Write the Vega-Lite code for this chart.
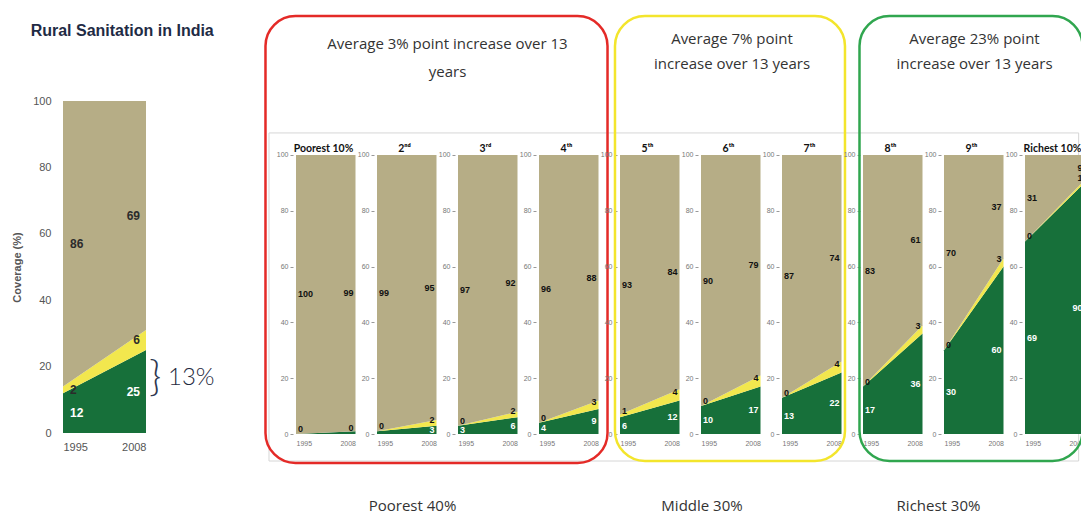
{
  "$schema": "https://vega.github.io/schema/vega-lite/v6.json",
  "background": "white",
  "padding": {"left": 11, "top": 14, "right": 0, "bottom": 0},
  "config": {"view": {"stroke": null}, "font": "Liberation Sans"},
  "datasets": {
    "india": [
      {"year": 1995, "type": "Improved", "value": 12},
      {"year": 1995, "type": "Shared", "value": 2},
      {"year": 1995, "type": "Unimproved", "value": 86},
      {"year": 2008, "type": "Improved", "value": 25},
      {"year": 2008, "type": "Shared", "value": 6},
      {"year": 2008, "type": "Unimproved", "value": 69}
    ],
    "deciles": [
      {"group": "Poorest 40%", "decile": "Poorest 10%", "year": 1995, "type": "Improved", "value": 0},
      {"group": "Poorest 40%", "decile": "Poorest 10%", "year": 1995, "type": "Shared", "value": 0},
      {"group": "Poorest 40%", "decile": "Poorest 10%", "year": 1995, "type": "Unimproved", "value": 100},
      {"group": "Poorest 40%", "decile": "Poorest 10%", "year": 2008, "type": "Improved", "value": 1},
      {"group": "Poorest 40%", "decile": "Poorest 10%", "year": 2008, "type": "Shared", "value": 0},
      {"group": "Poorest 40%", "decile": "Poorest 10%", "year": 2008, "type": "Unimproved", "value": 99},
      {"group": "Poorest 40%", "decile": "2ⁿᵈ", "year": 1995, "type": "Improved", "value": 1},
      {"group": "Poorest 40%", "decile": "2ⁿᵈ", "year": 1995, "type": "Shared", "value": 0},
      {"group": "Poorest 40%", "decile": "2ⁿᵈ", "year": 1995, "type": "Unimproved", "value": 99},
      {"group": "Poorest 40%", "decile": "2ⁿᵈ", "year": 2008, "type": "Improved", "value": 3},
      {"group": "Poorest 40%", "decile": "2ⁿᵈ", "year": 2008, "type": "Shared", "value": 2},
      {"group": "Poorest 40%", "decile": "2ⁿᵈ", "year": 2008, "type": "Unimproved", "value": 95},
      {"group": "Poorest 40%", "decile": "3ʳᵈ", "year": 1995, "type": "Improved", "value": 3},
      {"group": "Poorest 40%", "decile": "3ʳᵈ", "year": 1995, "type": "Shared", "value": 0},
      {"group": "Poorest 40%", "decile": "3ʳᵈ", "year": 1995, "type": "Unimproved", "value": 97},
      {"group": "Poorest 40%", "decile": "3ʳᵈ", "year": 2008, "type": "Improved", "value": 6},
      {"group": "Poorest 40%", "decile": "3ʳᵈ", "year": 2008, "type": "Shared", "value": 2},
      {"group": "Poorest 40%", "decile": "3ʳᵈ", "year": 2008, "type": "Unimproved", "value": 92},
      {"group": "Poorest 40%", "decile": "4ᵗʰ", "year": 1995, "type": "Improved", "value": 4},
      {"group": "Poorest 40%", "decile": "4ᵗʰ", "year": 1995, "type": "Shared", "value": 0},
      {"group": "Poorest 40%", "decile": "4ᵗʰ", "year": 1995, "type": "Unimproved", "value": 96},
      {"group": "Poorest 40%", "decile": "4ᵗʰ", "year": 2008, "type": "Improved", "value": 9},
      {"group": "Poorest 40%", "decile": "4ᵗʰ", "year": 2008, "type": "Shared", "value": 3},
      {"group": "Poorest 40%", "decile": "4ᵗʰ", "year": 2008, "type": "Unimproved", "value": 88},
      {"group": "Middle 30%", "decile": "5ᵗʰ", "year": 1995, "type": "Improved", "value": 6},
      {"group": "Middle 30%", "decile": "5ᵗʰ", "year": 1995, "type": "Shared", "value": 1},
      {"group": "Middle 30%", "decile": "5ᵗʰ", "year": 1995, "type": "Unimproved", "value": 93},
      {"group": "Middle 30%", "decile": "5ᵗʰ", "year": 2008, "type": "Improved", "value": 12},
      {"group": "Middle 30%", "decile": "5ᵗʰ", "year": 2008, "type": "Shared", "value": 4},
      {"group": "Middle 30%", "decile": "5ᵗʰ", "year": 2008, "type": "Unimproved", "value": 84},
      {"group": "Middle 30%", "decile": "6ᵗʰ", "year": 1995, "type": "Improved", "value": 10},
      {"group": "Middle 30%", "decile": "6ᵗʰ", "year": 1995, "type": "Shared", "value": 0},
      {"group": "Middle 30%", "decile": "6ᵗʰ", "year": 1995, "type": "Unimproved", "value": 90},
      {"group": "Middle 30%", "decile": "6ᵗʰ", "year": 2008, "type": "Improved", "value": 17},
      {"group": "Middle 30%", "decile": "6ᵗʰ", "year": 2008, "type": "Shared", "value": 4},
      {"group": "Middle 30%", "decile": "6ᵗʰ", "year": 2008, "type": "Unimproved", "value": 79},
      {"group": "Middle 30%", "decile": "7ᵗʰ", "year": 1995, "type": "Improved", "value": 13},
      {"group": "Middle 30%", "decile": "7ᵗʰ", "year": 1995, "type": "Shared", "value": 0},
      {"group": "Middle 30%", "decile": "7ᵗʰ", "year": 1995, "type": "Unimproved", "value": 87},
      {"group": "Middle 30%", "decile": "7ᵗʰ", "year": 2008, "type": "Improved", "value": 22},
      {"group": "Middle 30%", "decile": "7ᵗʰ", "year": 2008, "type": "Shared", "value": 4},
      {"group": "Middle 30%", "decile": "7ᵗʰ", "year": 2008, "type": "Unimproved", "value": 74},
      {"group": "Richest 30%", "decile": "8ᵗʰ", "year": 1995, "type": "Improved", "value": 17},
      {"group": "Richest 30%", "decile": "8ᵗʰ", "year": 1995, "type": "Shared", "value": 0},
      {"group": "Richest 30%", "decile": "8ᵗʰ", "year": 1995, "type": "Unimproved", "value": 83},
      {"group": "Richest 30%", "decile": "8ᵗʰ", "year": 2008, "type": "Improved", "value": 36},
      {"group": "Richest 30%", "decile": "8ᵗʰ", "year": 2008, "type": "Shared", "value": 3},
      {"group": "Richest 30%", "decile": "8ᵗʰ", "year": 2008, "type": "Unimproved", "value": 61},
      {"group": "Richest 30%", "decile": "9ᵗʰ", "year": 1995, "type": "Improved", "value": 30},
      {"group": "Richest 30%", "decile": "9ᵗʰ", "year": 1995, "type": "Shared", "value": 0},
      {"group": "Richest 30%", "decile": "9ᵗʰ", "year": 1995, "type": "Unimproved", "value": 70},
      {"group": "Richest 30%", "decile": "9ᵗʰ", "year": 2008, "type": "Improved", "value": 60},
      {"group": "Richest 30%", "decile": "9ᵗʰ", "year": 2008, "type": "Shared", "value": 3},
      {"group": "Richest 30%", "decile": "9ᵗʰ", "year": 2008, "type": "Unimproved", "value": 37},
      {"group": "Richest 30%", "decile": "Richest 10%", "year": 1995, "type": "Improved", "value": 69},
      {"group": "Richest 30%", "decile": "Richest 10%", "year": 1995, "type": "Shared", "value": 0},
      {"group": "Richest 30%", "decile": "Richest 10%", "year": 1995, "type": "Unimproved", "value": 31},
      {"group": "Richest 30%", "decile": "Richest 10%", "year": 2008, "type": "Improved", "value": 90},
      {"group": "Richest 30%", "decile": "Richest 10%", "year": 2008, "type": "Shared", "value": 1},
      {"group": "Richest 30%", "decile": "Richest 10%", "year": 2008, "type": "Unimproved", "value": 9}
    ]
  },
  "spacing": 49,
  "hconcat": [
    {
      "width": 83,
      "height": 332,
      "title": {"text": "Rural Sanitation in India", "anchor": "start", "dx": 19, "fontSize": 16, "fontWeight": "bold", "color": "#1f2b45", "font": "Liberation Sans", "offset": 56},
      "data": {"name": "india"},
      "transform": [
        {"stack": "value", "groupby": ["year"], "sort": [{"field": "type", "order": "ascending"}], "as": ["lo", "hi"]},
        {"calculate": "(datum.lo + datum.hi) / 2", "as": "mid"}
      ],
      "layer": [
        {
          "mark": {"type": "area"},
          "encoding": {
            "x": {"field": "year", "type": "quantitative", "scale": {"domain": [1995, 2008], "nice": false, "zero": false},
                  "axis": {"values": [1995, 2008], "format": "d", "title": null, "grid": false, "domain": false, "ticks": false, "labelPadding": 8, "labelFontSize": 11, "labelColor": "#555555", "labelFont": "Liberation Sans Narrow, Liberation Sans"}},
            "y": {"field": "hi", "type": "quantitative", "scale": {"domain": [0, 100], "nice": false},
                  "axis": {"title": "Coverage (%)", "values": [0, 20, 40, 60, 80, 100], "grid": false, "domain": false, "ticks": false, "labelPadding": 12, "labelFontSize": 11, "labelColor": "#555555", "labelFont": "Liberation Sans Narrow, Liberation Sans", "titleFontSize": 11, "titleColor": "#555555", "titleFontWeight": "bold", "titlePadding": 10}},
            "y2": {"field": "lo"},
            "color": {"field": "type", "type": "nominal", "scale": {"domain": ["Improved", "Shared", "Unimproved"], "range": ["#17703a", "#f2e74e", "#b6ad86"]}, "legend": null}
          }
        },
        {
          "transform": [{"filter": "datum.year === 1995"}],
          "mark": {"type": "text", "align": "left", "dx": 7, "fontSize": 12, "fontWeight": "bold", "font": "Liberation Sans Narrow, Liberation Sans"},
          "encoding": {
            "x": {"field": "year", "type": "quantitative"},
            "y": {"field": "mid", "type": "quantitative"},
            "text": {"field": "value", "type": "quantitative"},
            "color": {"condition": {"test": "datum.type === 'Improved'", "value": "#ffffff"}, "value": "#2b2b2b"}
          }
        },
        {
          "transform": [{"filter": "datum.year === 2008"}],
          "mark": {"type": "text", "align": "right", "dx": -6, "fontSize": 12, "fontWeight": "bold", "font": "Liberation Sans Narrow, Liberation Sans"},
          "encoding": {
            "x": {"field": "year", "type": "quantitative"},
            "y": {"field": "mid", "type": "quantitative"},
            "text": {"field": "value", "type": "quantitative"},
            "color": {"condition": {"test": "datum.type === 'Improved'", "value": "#ffffff"}, "value": "#2b2b2b"}
          }
        },
        {
          "data": {"values": [{}]},
          "mark": {"type": "text", "align": "left", "baseline": "middle", "dx": 3, "fontSize": 42, "font": "Lato", "fontWeight": 300, "color": "#2f3850"},
          "encoding": {"x": {"datum": 2008}, "y": {"datum": 16.5}, "text": {"value": "}"}}
        },
        {
          "data": {"values": [{}]},
          "mark": {"type": "text", "align": "left", "baseline": "middle", "dx": 22, "fontSize": 24, "font": "Lato", "fontWeight": 300, "color": "#1f2a40"},
          "encoding": {"x": {"datum": 2008}, "y": {"datum": 16.5}, "text": {"value": "13%"}}
        }
      ]
    },
    {
      "data": {"name": "deciles"},
      "transform": [
        {"stack": "value", "groupby": ["decile", "year"], "sort": [{"field": "type", "order": "ascending"}], "as": ["lo", "hi"]},
        {"calculate": "(datum.lo + datum.hi) / 2", "as": "mid"}
      ],
      "facet": {
        "column": {"field": "decile", "type": "nominal",
          "sort": ["Poorest 10%", "2ⁿᵈ", "3ʳᵈ", "4ᵗʰ", "5ᵗʰ", "6ᵗʰ", "7ᵗʰ", "8ᵗʰ", "9ᵗʰ", "Richest 10%"],
          "header": {"title": null, "labels": false}}
      },
      "spacing": 21,
      "bounds": "flush",
      "resolve": {"axis": {"y": "independent"}},
      "spec": {
        "width": 59.5,
        "height": 333,
        "layer": [
          {
            "transform": [{"filter": "datum.decile === 'Poorest 10%' && datum.year === 1995 && datum.type === 'Improved'"}],
            "mark": {"type": "rect", "fillOpacity": 0, "stroke": "#d6d6d6", "strokeWidth": 1},
            "encoding": {"x": {"datum": 1989.1}, "x2": {"datum": 2166.0}, "y": {"datum": 107.9}, "y2": {"datum": -9.68}}
          },
          {
            "mark": {"type": "area"},
            "encoding": {
              "x": {"field": "year", "type": "quantitative", "scale": {"domain": [1995, 2008], "nice": false, "zero": false},
                    "axis": {"values": [1995, 2008], "format": "d", "title": null, "grid": false, "domain": false, "ticks": false, "labelFlush": true, "labelPadding": 5, "labelFontSize": 7, "labelColor": "#777777"}},
              "y": {"field": "hi", "type": "quantitative", "scale": {"domain": [0, 119.35], "nice": false},
                    "axis": {"title": null, "values": [0, 20, 40, 60, 80, 100], "grid": false, "domain": false, "tickSize": 3, "tickColor": "#999999", "offset": 3, "labelPadding": 2, "labelFontSize": 7, "labelColor": "#777777"}},
              "y2": {"field": "lo"},
              "color": {"field": "type", "type": "nominal", "scale": {"domain": ["Improved", "Shared", "Unimproved"], "range": ["#17703a", "#f2e74e", "#b6ad86"]}, "legend": null}
            }
          },
          {
            "transform": [{"filter": "datum.year === 1995 && datum.type === 'Improved'"}],
            "mark": {"type": "text", "align": "center", "baseline": "middle", "fontSize": 10.5, "fontWeight": "bold", "font": "Lato", "color": "#111111"},
            "encoding": {"x": {"datum": 2001.0}, "y": {"datum": 102.2}, "text": {"field": "decile"}}
          },
          {
            "transform": [{"filter": "datum.year === 1995 && (datum.type === 'Unimproved' || (datum.type === 'Improved' && datum.value >= 2))"}],
            "mark": {"type": "text", "align": "left", "dx": 2, "fontSize": 9, "fontWeight": "bold", "font": "Liberation Sans Narrow, Liberation Sans"},
            "encoding": {
              "x": {"field": "year", "type": "quantitative"},
              "y": {"field": "mid", "type": "quantitative"},
              "text": {"field": "value", "type": "quantitative"},
              "color": {"condition": {"test": "datum.type === 'Improved'", "value": "#ffffff"}, "value": "#111111"}
            }
          },
          {
            "transform": [{"filter": "datum.year === 1995 && datum.type === 'Shared'"}],
            "mark": {"type": "text", "align": "left", "dx": 2, "dy": -5, "fontSize": 9, "fontWeight": "bold", "font": "Liberation Sans Narrow, Liberation Sans", "color": "#111111"},
            "encoding": {
              "x": {"field": "year", "type": "quantitative"},
              "y": {"field": "mid", "type": "quantitative"},
              "text": {"field": "value", "type": "quantitative"}
            }
          },
          {
            "transform": [{"filter": "datum.year === 2008 && (datum.type === 'Unimproved' || (datum.type === 'Improved' && datum.value >= 2))"}],
            "mark": {"type": "text", "align": "right", "dx": -2, "fontSize": 9, "fontWeight": "bold", "font": "Liberation Sans Narrow, Liberation Sans"},
            "encoding": {
              "x": {"field": "year", "type": "quantitative"},
              "y": {"field": "mid", "type": "quantitative"},
              "text": {"field": "value", "type": "quantitative"},
              "color": {"condition": {"test": "datum.type === 'Improved'", "value": "#ffffff"}, "value": "#111111"}
            }
          },
          {
            "transform": [{"filter": "datum.year === 2008 && datum.type === 'Shared'"}],
            "mark": {"type": "text", "align": "right", "dx": -2, "dy": -3, "fontSize": 9, "fontWeight": "bold", "font": "Liberation Sans Narrow, Liberation Sans", "color": "#111111"},
            "encoding": {
              "x": {"field": "year", "type": "quantitative"},
              "y": {"field": "mid", "type": "quantitative"},
              "text": {"field": "value", "type": "quantitative"}
            }
          },
          {
            "transform": [{"filter": "datum.decile === '4ᵗʰ' && datum.year === 1995 && datum.type === 'Improved'"}],
            "mark": {"type": "rect", "fillOpacity": 0, "stroke": "#e42a27", "strokeWidth": 2.5, "cornerRadius": 30},
            "encoding": {"x": {"datum": 1935.24}, "x2": {"datum": 2009.97}, "y": {"datum": 149.82}, "y2": {"datum": -10.39}}
          },
          {
            "transform": [{"filter": "datum.decile === '4ᵗʰ' && datum.year === 1995 && datum.type === 'Improved'"}],
            "mark": {"type": "text", "align": "center", "baseline": "alphabetic", "lineHeight": 28, "font": "Open Sans", "fontSize": 15, "color": "#333333"},
            "encoding": {"x": {"datum": 1975.01}, "y": {"datum": 137.81}, "text": {"value": ["Average 3% point increase over 13", "years"]}}
          },
          {
            "transform": [{"filter": "datum.decile === '4ᵗʰ' && datum.year === 1995 && datum.type === 'Improved'"}],
            "mark": {"type": "text", "align": "center", "baseline": "middle", "font": "Open Sans", "fontSize": 15, "color": "#333333"},
            "encoding": {"x": {"datum": 1967.36}, "y": {"datum": -25.81}, "text": {"field": "group"}}
          },
          {
            "transform": [{"filter": "datum.decile === '7ᵗʰ' && datum.year === 1995 && datum.type === 'Improved'"}],
            "mark": {"type": "rect", "fillOpacity": 0, "stroke": "#f3e52c", "strokeWidth": 2.5, "cornerRadius": 30},
            "encoding": {"x": {"datum": 1958.51}, "x2": {"datum": 2008.76}, "y": {"datum": 149.82}, "y2": {"datum": -9.68}}
          },
          {
            "transform": [{"filter": "datum.decile === '7ᵗʰ' && datum.year === 1995 && datum.type === 'Improved'"}],
            "mark": {"type": "text", "align": "center", "baseline": "alphabetic", "lineHeight": 25, "font": "Open Sans", "fontSize": 15, "color": "#333333"},
            "encoding": {"x": {"datum": 1984.08}, "y": {"datum": 139.61}, "text": {"value": ["Average 7% point", "increase over 13 years"]}}
          },
          {
            "transform": [{"filter": "datum.decile === '7ᵗʰ' && datum.year === 1995 && datum.type === 'Improved'"}],
            "mark": {"type": "text", "align": "center", "baseline": "middle", "font": "Open Sans", "fontSize": 15, "color": "#333333"},
            "encoding": {"x": {"datum": 1977.52}, "y": {"datum": -25.81}, "text": {"field": "group"}}
          },
          {
            "transform": [{"filter": "datum.decile === 'Richest 10%' && datum.year === 1995 && datum.type === 'Improved'"}],
            "mark": {"type": "rect", "fillOpacity": 0, "stroke": "#30a64f", "strokeWidth": 2.5, "cornerRadius": 30},
            "encoding": {"x": {"datum": 1958.84}, "x2": {"datum": 2007.56}, "y": {"datum": 149.82}, "y2": {"datum": -9.68}}
          },
          {
            "transform": [{"filter": "datum.decile === 'Richest 10%' && datum.year === 1995 && datum.type === 'Improved'"}],
            "mark": {"type": "text", "align": "center", "baseline": "alphabetic", "lineHeight": 25, "font": "Open Sans", "fontSize": 15, "color": "#333333"},
            "encoding": {"x": {"datum": 1983.97}, "y": {"datum": 139.61}, "text": {"value": ["Average 23% point", "increase over 13 years"]}}
          },
          {
            "transform": [{"filter": "datum.decile === 'Richest 10%' && datum.year === 1995 && datum.type === 'Improved'"}],
            "mark": {"type": "text", "align": "center", "baseline": "middle", "font": "Open Sans", "fontSize": 15, "color": "#333333"},
            "encoding": {"x": {"datum": 1976.1}, "y": {"datum": -25.81}, "text": {"field": "group"}}
          }
        ]
      }
    }
  ]
}
